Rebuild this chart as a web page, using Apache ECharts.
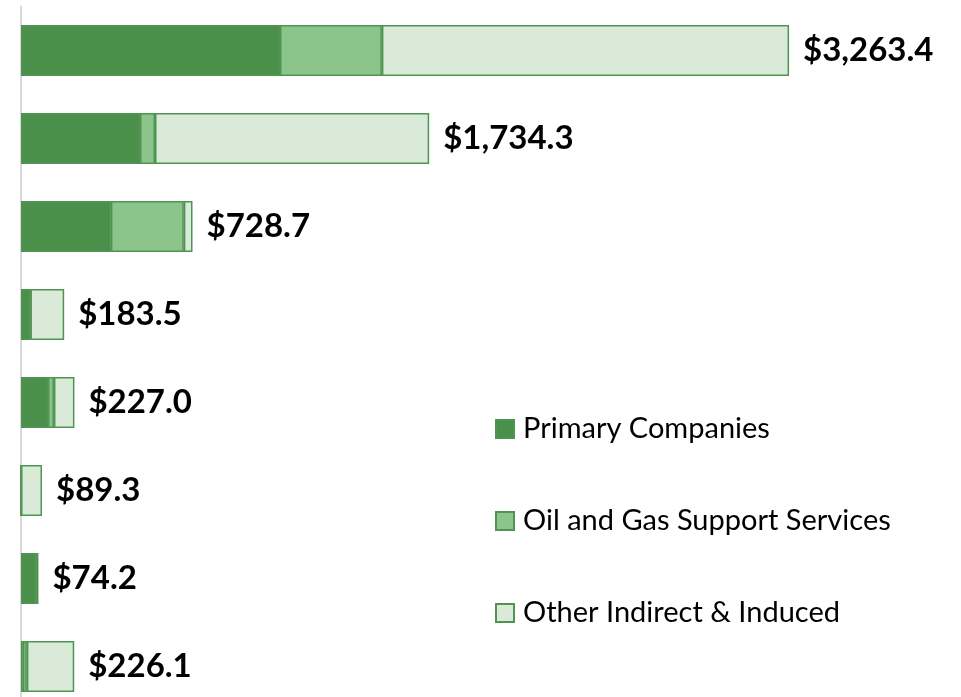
<!DOCTYPE html>
<html>
<head>
<meta charset="utf-8">
<script src="https://cdn.jsdelivr.net/npm/echarts@6/dist/echarts.min.js"></script>
<style>html,body{margin:0;padding:0;background:#fff;}#c{width:961px;height:697px;}</style>
</head>
<body>
<div id="c"></div>
<script>
var categories = ['A', 'B', 'C', 'D', 'E', 'F', 'G', 'H'];
var primary = [1100.5, 505.7, 382.0, 38.0, 115.0, 0, 62.0, 8.0];
var support = [433.0, 63.7, 310.0, 2.0, 25.0, 0, 2.0, 17.0];
var other = [1729.9, 1164.9, 36.7, 143.5, 87.0, 89.3, 10.2, 201.1];
var totals = ['$3,263.4', '$1,734.3', '$728.7', '$183.5', '$227.0', '$89.3', '$74.2', '$226.1'];
var seriesNames = ['Primary Companies', 'Oil and Gas Support Services', 'Other Indirect & Induced'];

var chart = echarts.init(document.getElementById('c'));
var border = '#4f9450';
function mk(name, data, color, withLabel) {
  var s = {
    name: name, type: 'bar', stack: 'total', data: data, barWidth: 51,
    itemStyle: { color: color, borderColor: border, borderWidth: 1.5 },
    emphasis: { disabled: true }
  };
  if (withLabel) {
    s.label = {
      show: true, position: 'right', distance: 14,
      formatter: function (p) { return totals[p.dataIndex]; },
      fontFamily: 'Lato', fontWeight: 'bold', fontSize: 33, color: '#000'
    };
  }
  return s;
}
chart.setOption({
  animation: false,
  grid: { left: 21, top: 6.5, width: 940, height: 704, containLabel: false, outerBoundsMode: 'none' },
  xAxis: { type: 'value', min: 0, max: 3994, show: false, splitLine: { show: false } },
  yAxis: {
    type: 'category', data: categories, inverse: true,
    axisLine: { show: true, lineStyle: { color: '#d9d9d9', width: 2 } },
    axisTick: { show: false }, axisLabel: { show: false }
  },
  legend: {
    orient: 'vertical', left: 495, top: 414, padding: 0, itemWidth: 18, itemHeight: 18,
    itemGap: 62, icon: 'rect', selectedMode: false,
    textStyle: { fontFamily: 'Lato', fontSize: 29, lineHeight: 30, color: '#000', padding: [0, 0, 0, 4] },
    data: seriesNames
  },
  series: [
    mk(seriesNames[0], primary, '#4a8f4a', false),
    mk(seriesNames[1], support, '#8bc58b', false),
    mk(seriesNames[2], other, '#d9ebd8', true)
  ]
});
</script>
</body>
</html>
